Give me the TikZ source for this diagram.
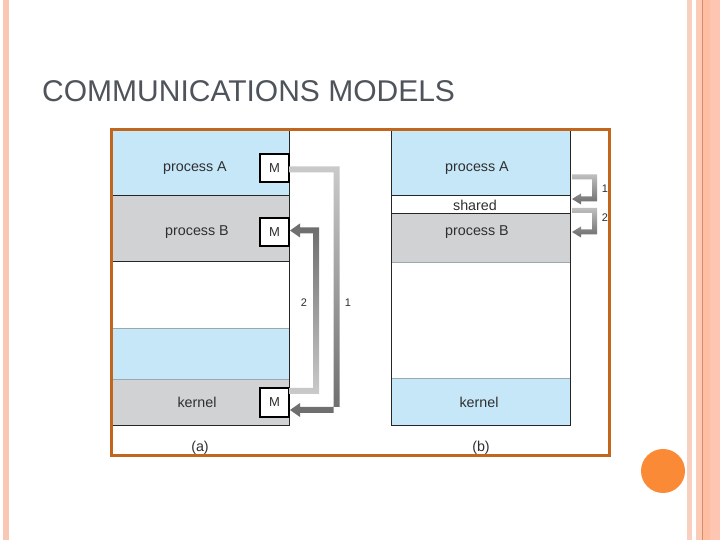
\documentclass[tikz,border=0pt]{standalone}
\usepackage{fontspec}
\setmainfont{Liberation Sans}
\usetikzlibrary{calc}
\definecolor{pblue}{HTML}{C6E7F8}
\definecolor{pgray}{HTML}{D1D2D4}
\definecolor{framec}{HTML}{C1661C}
\definecolor{titlec}{HTML}{4F545B}
\definecolor{txtc}{HTML}{2F2F2F}
\definecolor{arrlight}{HTML}{CACACA}
\definecolor{arrdark}{HTML}{6C6C6C}
\definecolor{pinkA}{HTML}{F9C8B4}
\definecolor{pinkB}{HTML}{F9D0C0}
\definecolor{pinkC}{HTML}{FDCBB5}
\definecolor{pinkD}{HTML}{FDBEA2}
\definecolor{pinkE}{HTML}{FEC6B2}
\definecolor{pinkline}{HTML}{D38D6C}
\definecolor{dotc}{HTML}{FB8A37}
\definecolor{sepc}{HTML}{9AA8B0}
\tikzset{
  region/.style={rectangle, inner sep=0pt, outer sep=0pt, draw=none},
  lbl/.style={inner sep=0pt, text=txtc, font=\fontsize{14.3}{16}\selectfont},
  mbox/.style={rectangle, draw=black, line width=1.1pt, fill=white, inner sep=0pt, outer sep=0pt,
    minimum width=29pt, minimum height=28pt, text=txtc, font=\fontsize{13}{15}\selectfont},
  numlbl/.style={inner sep=0pt, text=txtc, font=\fontsize{11}{13}\selectfont},
  edge/.style={draw=black!85, line width=1pt},
  softedge/.style={draw=sepc, line width=0.9pt},
}
\begin{document}
\begin{tikzpicture}[x=1pt,y=1pt]
\useasboundingbox (0,0) rectangle (720,540);
\fill[white] (0,0) rectangle (720,540);
% slide decoration
\fill[pinkA] (3,0) rectangle (9,540);
\fill[pinkB] (687,0) rectangle (692,540);
\fill[pinkC] (696,0) rectangle (702,540);
\fill[pinkD] (703,0) rectangle (710,540);
\fill[pinkE] (710,0) rectangle (720,540);
\draw[pinkline, line width=1pt] (702.5,0) -- (702.5,540);
\fill[dotc] (663,69) circle (22);
% title
\node[anchor=base west, inner sep=0pt, text=titlec, font=\fontsize{30}{36}\selectfont] (title) at (42,438) {COMMUNICATIONS MODELS};

% ---------- (a) ----------
\node[region, fill=pblue, minimum width=176pt, minimum height=65pt] (aA) at (201,376.5) {};
\node[region, fill=pgray, minimum width=176pt, minimum height=66pt] (aB) at (201,311) {};
\node[region, fill=white, minimum width=176pt, minimum height=66pt] (aW) at (201,245) {};
\node[region, fill=pblue, minimum width=176pt, minimum height=51pt] (aC) at (201,186.5) {};
\node[region, fill=pgray, minimum width=176pt, minimum height=47pt] (aK) at (201,137.5) {};
\draw[edge] (aA.south west) -- (aA.south east);
\draw[edge] (aB.south west) -- (aB.south east);
\draw[softedge] (aW.south west) -- (aW.south east);
\draw[softedge] (aC.south west) -- (aC.south east);
\draw[edge] (aA.north east) -- (aK.south east) -- (aK.south west);

\node[lbl] (taA) at (195,372) {process A};
\node[lbl] (taB) at (197,308) {process B};
\node[lbl] (taK) at (197,138) {kernel};
\node[mbox] (mA) at (274.5,372) {M};
\node[mbox] (mB) at (274.5,308) {M};
\node[mbox, minimum height=29pt] (mK) at (274.5,137.5) {M};

% arrow 1 : A -> kernel
\shade[top color=arrlight, bottom color=arrdark]
  let \p1=(mA.east), \p2=(mK.east) in
  (\x1,\y1+1.5pt) -- (339.5pt,\y1+1.5pt) -- (339.5pt,\y2-4.5pt) -- (\x2+11pt,\y2-4.5pt)
  -- (\x2+11pt,\y2-0.5pt) -- (\x2+1pt,\y2-7.5pt) -- (\x2+11pt,\y2-14.5pt)
  -- (\x2+11pt,\y2-10.5pt) -- (333.5pt,\y2-10.5pt) -- (333.5pt,\y1-4.5pt) -- (\x1,\y1-4.5pt) -- cycle;
% arrow 2 : kernel -> B
\shade[top color=arrdark, bottom color=arrlight]
  let \p1=(mK.east), \p2=(mB.east) in
  (\x1,\y1+8.5pt) -- (319pt,\y1+8.5pt) -- (319pt,\y2+4.5pt) -- (\x2+11pt,\y2+4.5pt)
  -- (\x2+11pt,\y2+8.5pt) -- (\x2+1pt,\y2+1.5pt) -- (\x2+11pt,\y2-5.5pt)
  -- (\x2+11pt,\y2-1.5pt) -- (313pt,\y2-1.5pt) -- (313pt,\y1+14.5pt) -- (\x1,\y1+14.5pt) -- cycle;
\node[numlbl] (n2a) at (304,237) {2};
\node[numlbl] (n1a) at (348,237) {1};
\node[lbl] (capa) at (200,92) {(a)};

% ---------- (b) ----------
\node[region, fill=pblue, minimum width=179pt, minimum height=65pt] (bA) at (480.5,376.5) {};
\node[region, fill=white, minimum width=179pt, minimum height=18pt] (bS) at (480.5,335) {};
\node[region, fill=pgray, minimum width=179pt, minimum height=48pt] (bB) at (480.5,302) {};
\node[region, fill=white, minimum width=179pt, minimum height=116pt] (bW) at (480.5,220) {};
\node[region, fill=pblue, minimum width=179pt, minimum height=48pt] (bK) at (480.5,138) {};
\draw[edge] (bA.south west) -- (bA.south east);
\draw[edge] (bS.south west) -- (bS.south east);
\draw[softedge] (bB.south west) -- (bB.south east);
\draw[softedge] (bW.south west) -- (bW.south east);
\draw[edge] (bA.north west) -- (bK.south west) -- (bK.south east) -- (bA.north east);

\node[lbl] (tbA) at (477,372) {process A};
\node[lbl] (tbS) at (475,335) {shared};
\node[lbl] (tbB) at (477,308) {process B};
\node[lbl] (tbK) at (479,138) {kernel};

% arrow 1 : A -> shared
\shade[top color=arrlight!85!gray, bottom color=arrdark]
  let \p1=(bA.east), \p2=(bS.east) in
  (\x1+2pt,\y1-11pt) -- (597pt,\y1-11pt) -- (597pt,\y2+3.5pt) -- (\x2+11pt,\y2+3.5pt)
  -- (\x2+11pt,\y2+0.5pt) -- (\x2+2pt,\y2+6pt) -- (\x2+11pt,\y2+11.5pt)
  -- (\x2+11pt,\y2+8.5pt) -- (592pt,\y2+8.5pt) -- (592pt,\y1-16pt) -- (\x1+2pt,\y1-16pt) -- cycle;
% arrow 2 : shared -> B
\shade[top color=arrlight!85!gray, bottom color=arrdark]
  let \p1=(bS.east), \p2=(bB.east) in
  (\x1+2pt,\y1-3pt) -- (597pt,\y1-3pt) -- (597pt,\y2+3.5pt) -- (\x2+11pt,\y2+3.5pt)
  -- (\x2+11pt,\y2+0.5pt) -- (\x2+2pt,\y2+6pt) -- (\x2+11pt,\y2+11.5pt)
  -- (\x2+11pt,\y2+8.5pt) -- (592pt,\y2+8.5pt) -- (592pt,\y1-8pt) -- (\x1+2pt,\y1-8pt) -- cycle;
\node[numlbl] (n1b) at (605,351) {1};
\node[numlbl] (n2b) at (605,322) {2};
\node[lbl] (capb) at (481,92) {(b)};

% frame
\draw[framec, line width=3pt] (111.5,410.5) rectangle (609.5,84.5);
\end{tikzpicture}
\end{document}
